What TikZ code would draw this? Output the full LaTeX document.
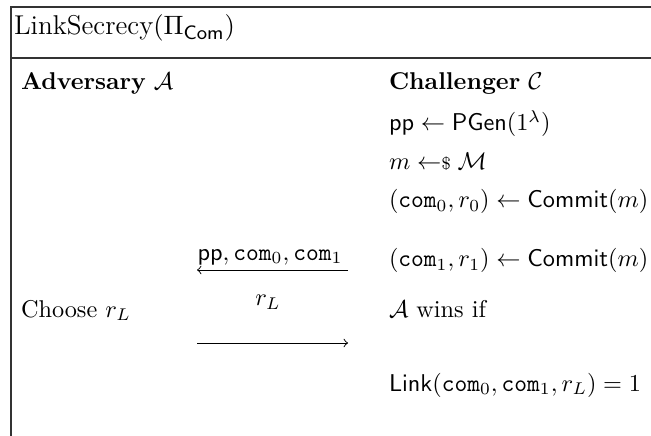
\documentclass[tikz,border=0pt]{standalone}
\usepackage{amsmath}
\newcommand{\rsample}{\mathrel{\leftarrow\mkern-5mu{\scriptstyle\$}}}
\begin{document}
\begin{tikzpicture}[x=0.412pt,y=-0.412pt,
  txt/.style={anchor=base west, inner sep=0pt, outer sep=0pt},
  lbl/.style={anchor=base, inner sep=0pt, outer sep=0pt},
  frame/.style={line width=0.5pt, draw=black!80},
  msg/.style={line width=0.4pt}]
\useasboundingbox (0,0) rectangle (651,436);

% frame and title rule
\draw[frame] (651,7) -- (11,7) -- (11,436);
\draw[frame, line width=0.7pt] (11,58) -- (651,58);

% title
\node[txt, font=\fontsize{11.2}{13}\selectfont] (title) at (14,35) {LinkSecrecy$(\Pi_{\mathsf{Com}})$};

% column heads
\node[txt] (adv) at (21,90) {\textbf{Adversary} $\mathcal{A}$};
\node[txt] (chal) at (389,90) {\textbf{Challenger} $\mathcal{C}$};

% challenger steps
\node[txt] (s1) at (389,131) {$\mathsf{pp} \leftarrow \mathsf{PGen}(1^\lambda)$};
\node[txt] (s2) at (389,170) {$m \rsample \mathcal{M}$};
\node[txt] (s3) at (389,208) {$(\mathtt{com}_0, r_0) \leftarrow \mathsf{Commit}(m)$};
\node[txt] (s4) at (389,267) {$(\mathtt{com}_1, r_1) \leftarrow \mathsf{Commit}(m)$};

% first message
\coordinate (m1r) at (348,270);
\coordinate (m1l) at (197,270);
\draw[msg,->] (m1r) -- (m1l);
\node[lbl] (m1lab) at (270,260) {$\mathsf{pp}, \mathtt{com}_0, \mathtt{com}_1$};

% adversary choice and second message
\node[txt] (choose) at (21,317) {Choose $r_L$};
\coordinate (m2l) at (197,343);
\coordinate (m2r) at (348,343);
\draw[msg,->] (m2l) -- (m2r);
\node[lbl] (m2lab) at (268,306) {$r_L$};

% winning condition
\node[txt] (win) at (389,317) {$\mathcal{A}$ wins if};
\node[txt] (link) at (389,391) {$\mathsf{Link}(\mathtt{com}_0, \mathtt{com}_1, r_L) = 1$};
\end{tikzpicture}
\end{document}
